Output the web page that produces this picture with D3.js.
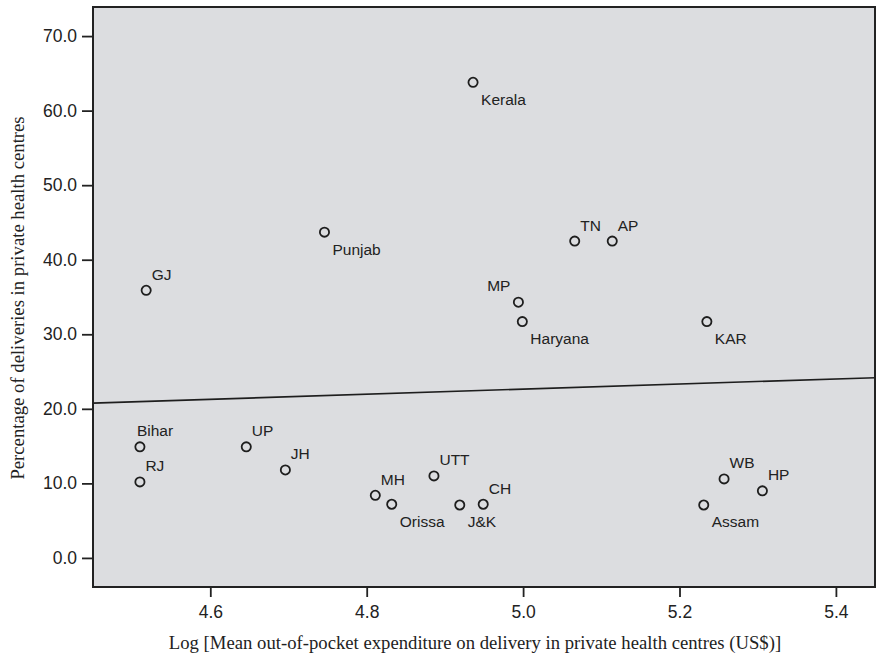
<!DOCTYPE html>
<html>
<head>
<meta charset="utf-8">
<title>Private deliveries vs expenditure</title>
<script src="https://cdn.jsdelivr.net/npm/d3@7"></script>
<style>
  body { margin: 0; background: #fff; }
  text { fill: #222; }
</style>
</head>
<body>
<svg width="877" height="656"></svg>
<script>
// data
var states = ["Bihar","RJ","UP","JH","MH","Orissa","UTT","J&K","CH","Assam","WB","HP",
              "GJ","Punjab","Kerala","TN","AP","MP","Haryana","KAR"];
var logExp = [4.510,4.510,4.646,4.696,4.811,4.832,4.886,4.919,4.949,5.231,5.257,5.306,
              4.518,4.746,4.936,5.066,5.114,4.994,4.999,5.235];
var pctPrivate = [14.9,10.2,14.9,11.8,8.4,7.2,11.0,7.1,7.2,7.1,10.6,9.0,
                  35.9,43.7,63.8,42.5,42.5,34.3,31.7,31.7];
// where each label sits relative to its point
var labelPlace = ["n","ne","ne","ne","ne","se","ne","se","ne","se","ne","ne",
                  "ne","se","se","ne","ne","nw","se","se"];
// fitted line: y = a + b*x
var fit = {a: 5.59, b: 3.41};
var xTicks = [4.6,4.8,5.0,5.2,5.4];
var yTicks = [0,10,20,30,40,50,60,70];

var svg = d3.select("svg");
var marge = {top:7, left:93, right:2, bottom:69};
var width = +svg.attr("width") - marge.left - marge.right;
var height = +svg.attr("height") - marge.top - marge.bottom;

var x = d3.scaleLinear().domain([4.45,5.45]).range([0,width]);
var y = d3.scaleLinear().domain([-3.9,73.9]).range([height,0]);

var g = svg.append("g")
  .attr("transform","translate("+marge.left+","+marge.top+")");

// panel
g.append("rect")
  .attr("width",width).attr("height",height)
  .attr("fill","#dcdde0");

// regression line
g.append("line")
  .attr("x1",x(4.45)).attr("y1",y(fit.a+fit.b*4.45))
  .attr("x2",x(5.45)).attr("y2",y(fit.a+fit.b*5.45))
  .attr("stroke","#1e1e1e").attr("stroke-width",1.6);

// axes
var yAxis = g.append("g")
  .call(d3.axisLeft(y).tickValues(yTicks).tickFormat(d3.format(".1f")).tickSize(11).tickPadding(5));
var xAxis = g.append("g")
  .attr("transform","translate(0,"+height+")")
  .call(d3.axisBottom(x).tickValues(xTicks).tickFormat(d3.format(".1f")).tickSize(10).tickPadding(9));
[xAxis,yAxis].forEach(function(a){
  a.select(".domain").remove();
  a.selectAll("line").attr("stroke","#222").attr("stroke-width",1.8);
  a.selectAll("text")
    .attr("fill","#222")
    .style("font-family","'Liberation Sans', Arial, sans-serif")
    .style("font-size","17.5px");
});

// frame
g.append("rect")
  .attr("width",width).attr("height",height)
  .attr("fill","none").attr("stroke","#222").attr("stroke-width",2);

// points
var pts = g.append("g").selectAll("g")
  .data(states)
  .enter()
  .append("g")
  .attr("transform",function(d,i){ return "translate("+x(logExp[i])+","+y(pctPrivate[i])+")"; });

pts.append("circle")
  .attr("r",4.6)
  .attr("fill","none")
  .attr("stroke","#1e1e1e")
  .attr("stroke-width",1.8);

var offs = {
  ne: {dx:5.5, dy:-10.5, anchor:"start"},
  se: {dx:8, dy:22.5, anchor:"start"},
  nw: {dx:-8, dy:-11, anchor:"end"},
  n:  {dx:-3, dy:-11, anchor:"start"}
};
pts.append("text")
  .attr("x",function(d,i){ return offs[labelPlace[i]].dx; })
  .attr("y",function(d,i){ return offs[labelPlace[i]].dy; })
  .attr("text-anchor",function(d,i){ return offs[labelPlace[i]].anchor; })
  .style("font-family","'Liberation Sans', Arial, sans-serif")
  .style("font-size","15.5px")
  .text(function(d){ return d; });

// axis titles
svg.append("text")
  .attr("x",475).attr("y",649)
  .attr("text-anchor","middle")
  .style("font-family","'Liberation Serif', 'Times New Roman', serif")
  .style("font-size","18.7px")
  .text("Log [Mean out-of-pocket expenditure on delivery in private health centres (US$)]");

svg.append("text")
  .attr("transform","translate(24,"+(marge.top+height/2+1)+") rotate(-90)")
  .attr("text-anchor","middle")
  .style("font-family","'Liberation Serif', 'Times New Roman', serif")
  .style("font-size","18.7px")
  .text("Percentage of deliveries in private health centres");
</script>
</body>
</html>
